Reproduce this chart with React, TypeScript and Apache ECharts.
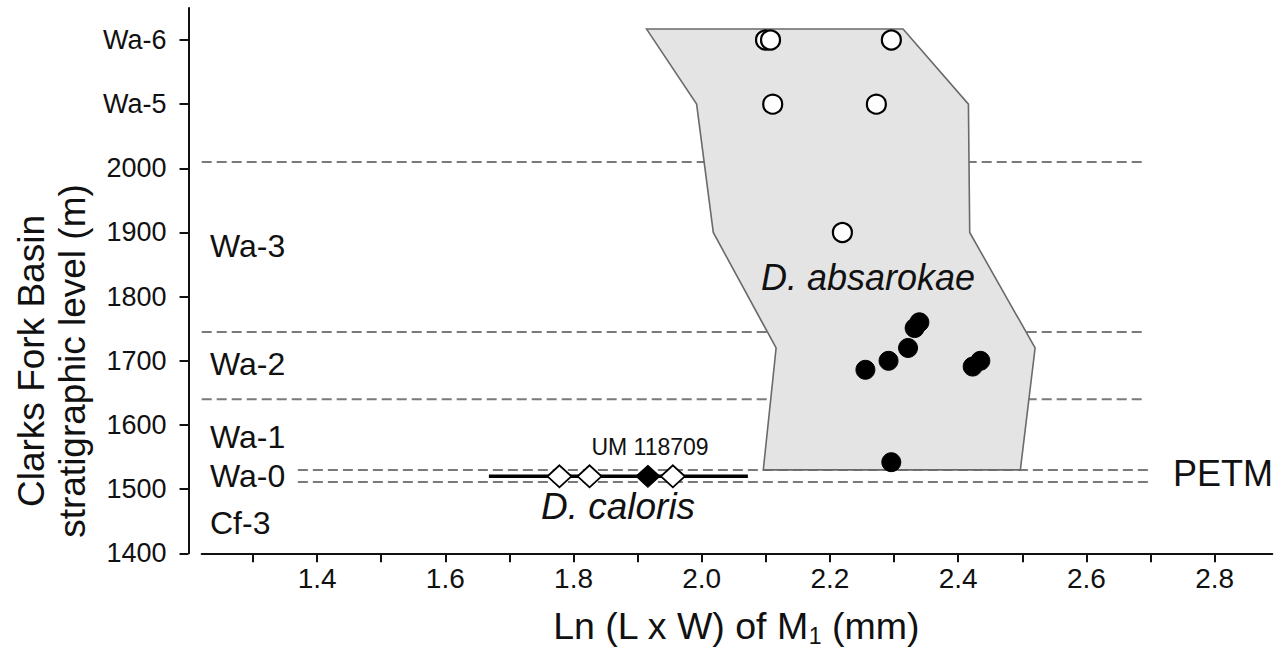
import React, { useEffect, useRef } from "react";
import * as echarts from "echarts";

// ---- data ----
const yTickValues = [1400, 1500, 1600, 1700, 1800, 1900, 2000, 2100, 2200];
const yTickLabels = ["1400", "1500", "1600", "1700", "1800", "1900", "2000", "Wa-5", "Wa-6"];
const xTickValues = [1.3, 1.4, 1.5, 1.6, 1.7, 1.8, 1.9, 2.0, 2.1, 2.2, 2.3, 2.4, 2.5, 2.6, 2.7, 2.8];
const xLabelValues = [1.4, 1.6, 1.8, 2.0, 2.2, 2.4, 2.6, 2.8];

// D. absarokae range polygon
const polygonX = [1.914, 2.314, 2.416, 2.418, 2.52, 2.497, 2.096, 2.116, 2.018, 1.992];
const polygonY = [2217, 2217, 2100, 1900, 1720, 1530, 1530, 1720, 1900, 2100];

// D. absarokae specimens
const openX = [2.0995, 2.1073, 2.2958, 2.1107, 2.2724, 2.2194];
const openY = [2200, 2200, 2200, 2100, 2100, 1900];
const filledX = [2.2553, 2.2914, 2.3218, 2.3321, 2.3395, 2.4226, 2.4346, 2.2957];
const filledY = [1686, 1700, 1720, 1751, 1760, 1691, 1700, 1542];

// D. caloris
const calorisLevel = 1520;
const calorisRange = [1.668, 2.072];
const calorisOpenX = [1.778, 1.825, 1.955];
const calorisFilledX = [1.916];

// biozone boundaries
const boundaryLevels = [2010, 1745, 1640];
const boundaryRange = [1.22, 2.69];
const petmLevels = [1530, 1511];
const petmRange = [1.37, 2.7];

const zoneLabels = ["Wa-3", "Wa-2", "Wa-1", "Wa-0", "Cf-3"];
const zoneLabelY = [246, 364, 437, 476, 523];

const FONT = "'Liberation Sans', Arial, Helvetica, sans-serif";

export default function App() {
  const ref = useRef<HTMLDivElement>(null);
  useEffect(() => {
    if (!ref.current) return;
    const chart = echarts.init(ref.current, null, { renderer: "svg" });

    const dashStyle = { color: "#7a7a7a", width: 2, type: [10, 5] as any };
    const lineSeries: any[] = [];
    boundaryLevels.forEach((lv) => {
      lineSeries.push({
        type: "line",
        data: [[boundaryRange[0], lv], [boundaryRange[1], lv]],
        symbol: "none",
        lineStyle: dashStyle,
        z: 1,
        silent: true,
      });
    });
    petmLevels.forEach((lv) => {
      lineSeries.push({
        type: "line",
        data: [[petmRange[0], lv], [petmRange[1], lv]],
        symbol: "none",
        lineStyle: dashStyle,
        z: 1,
        silent: true,
      });
    });

    const textStyle = (t: string, x: number, y: number, size: number, align = "left", italic = false) => ({
      type: "text",
      x,
      y,
      z: 100,
      zlevel: 0,
      style: {
        text: t,
        fill: "#111",
        fontSize: size,
        fontFamily: FONT,
        fontStyle: italic ? "italic" : "normal",
        align,
        verticalAlign: "middle",
        textAlign: align,
        textVerticalAlign: "middle",
      },
    });

    const option: any = {
      animation: false,
      backgroundColor: "#fff",
      grid: { left: 201.7, right: 10.7, top: 7.9, bottom: 94.7 },
      xAxis: {
        type: "value",
        min: 1.22,
        max: 2.89,
        axisLine: { show: true, lineStyle: { color: "#111", width: 2 } },
        axisTick: {
          show: true,
          length: 9,
          inside: false,
          lineStyle: { color: "#111", width: 2 },
          customValues: xTickValues,
        },
        axisLabel: {
          customValues: xLabelValues,
          formatter: (v: number) => v.toFixed(1),
          fontSize: 28,
          fontFamily: FONT,
          color: "#111",
          margin: 11,
        },
        splitLine: { show: false },
      },
      yAxis: {
        type: "value",
        min: 1400,
        max: 2250,
        offset: 13.2,
        axisLine: { show: true, lineStyle: { color: "#111", width: 2 } },
        axisTick: {
          show: true,
          length: 9,
          lineStyle: { color: "#111", width: 2 },
          customValues: yTickValues,
        },
        axisLabel: {
          customValues: yTickValues,
          formatter: (v: number) => {
            const i = yTickValues.indexOf(Math.round(v));
            return i >= 0 ? yTickLabels[i] : "";
          },
          fontSize: 27,
          fontFamily: FONT,
          color: "#111",
          margin: 22,
        },
        splitLine: { show: false },
      },
      series: [
        ...lineSeries,
        {
          type: "custom",
          z: 2,
          silent: true,
          data: [[polygonX[0], polygonY[0]]],
          renderItem: (_p: any, api: any) => ({
            type: "polygon",
            shape: { points: polygonX.map((x, i) => api.coord([x, polygonY[i]])) },
            style: { fill: "#e4e4e4", stroke: "#6a6a6a", lineWidth: 1.6 },
          }),
        },
        {
          type: "line",
          z: 3,
          symbol: "none",
          data: [[calorisRange[0], calorisLevel], [calorisRange[1], calorisLevel]],
          lineStyle: { color: "#000", width: 3.5 },
          silent: true,
        },
        {
          type: "scatter",
          z: 4,
          symbol: "diamond",
          symbolSize: [24, 22],
          data: calorisOpenX.map((x) => [x, calorisLevel]),
          itemStyle: { color: "#fff", borderColor: "#000", borderWidth: 1.8, opacity: 1 },
        },
        {
          type: "scatter",
          z: 4,
          symbol: "diamond",
          symbolSize: [24, 22],
          data: calorisFilledX.map((x) => [x, calorisLevel]),
          itemStyle: { color: "#000", borderColor: "#000", borderWidth: 1, opacity: 1 },
        },
        {
          type: "scatter",
          z: 5,
          symbol: "circle",
          symbolSize: 19,
          data: openX.map((x, i) => [x, openY[i]]),
          itemStyle: { color: "#fff", borderColor: "#000", borderWidth: 2.2, opacity: 1 },
        },
        {
          type: "scatter",
          z: 5,
          symbol: "circle",
          symbolSize: 19,
          data: filledX.map((x, i) => [x, filledY[i]]),
          itemStyle: { color: "#000", borderColor: "#000", borderWidth: 1, opacity: 1 },
        },
      ],
      graphic: [
        ...zoneLabels.map((t, i) => textStyle(t, 210, zoneLabelY[i], 32)),
        textStyle("PETM", 1173, 473, 36),
        textStyle("D. absarokae", 868, 277, 36, "center", true),
        textStyle("D. caloris", 618, 506, 37, "center", true),
        textStyle("UM 118709", 650, 447, 23, "center"),
        {
          type: "text",
          x: 52,
          y: 361,
          z: 100,
          rotation: Math.PI / 2,
          style: {
            text: "Clarks Fork Basin\nstratigraphic level (m)",
            fill: "#111",
            fontSize: 37,
            fontFamily: FONT,
            lineHeight: 41,
            align: "center",
            verticalAlign: "middle",
            textAlign: "center",
            textVerticalAlign: "middle",
          },
        },
        {
          type: "text",
          x: 736,
          y: 626,
          z: 100,
          style: {
            text: "{a|Ln (L x W) of M}{s|1}{a| (mm)}",
            fill: "#111",
            align: "center",
            verticalAlign: "middle",
            textAlign: "center",
            textVerticalAlign: "middle",
            rich: {
              a: { fontSize: 37.5, fontFamily: FONT, fill: "#111", lineHeight: 42 },
              s: { fontSize: 23, fontFamily: FONT, fill: "#111", lineHeight: 42, padding: [19, 0, 0, 0] },
            },
          },
        },
      ],
    };
    chart.setOption(option);
    return () => chart.dispose();
  }, []);
  return (
    <div
      ref={ref}
      style={{ position: "fixed", left: 0, top: 0, width: 1283, height: 648, background: "#fff" }}
    />
  );
}
